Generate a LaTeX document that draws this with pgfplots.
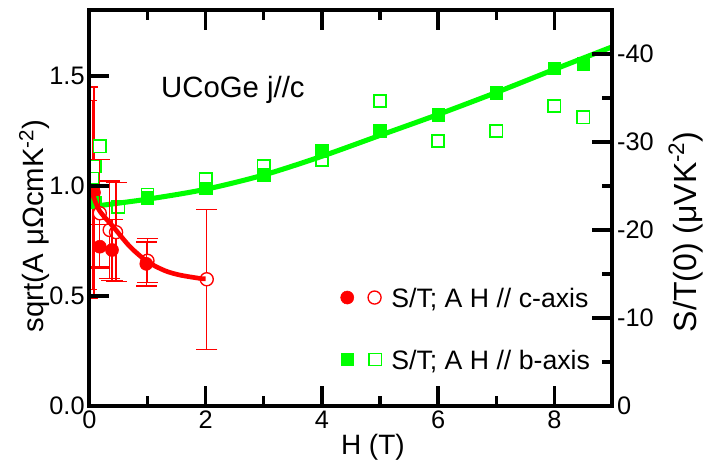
\documentclass[border=0pt]{standalone}
\usepackage{fontspec}
\setmainfont{Liberation Sans}
\usepackage{pgfplots}
\pgfplotsset{compat=1.18}
\definecolor{gr}{RGB}{0,255,0}
\definecolor{rd}{RGB}{255,0,0}

\pgfplotsset{
  frame/.style={
    scale only axis, width=392.4pt, height=297pt,
    xmin=0, xmax=9,
    axis on top, clip marker paths=true,
    axis line style={line width=3pt},
    tick align=inside,
    major tick length=15pt, minor tick length=7.5pt,
    major tick style={line width=2.5pt, black},
    minor tick style={line width=2.5pt, black},
    /pgf/number format/assume math mode=true,
    tick label style={font=\fontsize{19}{19}\selectfont},
  },
  errs/.style={error bars/.cd, y dir=both, y explicit,
    error bar style={line width=1pt, rd},
    error mark options={rotate=90, mark size=7.9pt, line width=1pt, rd}},
}

\begin{document}
\begin{tikzpicture}
\begin{axis}[frame, name=ax,
  ymin=0, ymax=1.8,
  xtick={0,2,4,6,8}, minor xtick={1,3,5,7},
  ytick={0,0.5,1.0,1.5},
  xtick pos=both, ytick pos=left,
  yticklabel style={/pgf/number format/.cd, fixed, fixed zerofill, precision=1},
  xlabel={H (T)},
  xlabel style={at={(axis description cs:0.542,-0.1237)}, anchor=base, font=\fontsize{21}{21}\selectfont},
  ylabel={sqrt(A μΩcmK\textsuperscript{-2})},
  ylabel style={at={(axis description cs:-0.0878,0.455)}, anchor=base, font=\fontsize{22}{22}\selectfont},
  legend style={draw=none, fill=none, inner sep=0pt, nodes={inner sep=0pt, text depth=0pt},
    at={(axis cs:4.32,0.538)}, anchor=north west, column sep=7.5pt, row sep=32pt,
    font=\fontsize{20}{20}\selectfont},
  legend cell align=left,
]
% c-axis points next to H=0 (caps cut short by the frame)
\addplot[forget plot, only marks, mark=*, mark size=4.9pt, rd, mark options={fill=white, line width=1pt},
  errs, /pgfplots/error bars/error mark options={rotate=90, mark size=3pt, line width=1pt, rd}]
  coordinates {(0.06,0.96) +- (0,0.43)};
\addplot[forget plot, only marks, mark=*, mark size=4.9pt, rd, mark options={fill=rd},
  errs, /pgfplots/error bars/error mark options={rotate=90, mark size=3pt, line width=1pt, rd}]
  coordinates {(0.08,0.97) +- (0,0.48)};

% b-axis, A (open squares)
\addplot[forget plot, only marks, mark=square*, mark size=4.6pt, gr, mark options={fill=white, line width=1.2pt}]
  coordinates {(0.05,1.036) (0.1,1.09) (0.18,1.18) (0.5,0.905) (1,0.96) (2,1.03) (3,1.09)
               (4,1.118) (5,1.386) (6,1.205) (7,1.25) (8,1.364) (8.5,1.312)};
% b-axis fit
\addplot[forget plot, gr, line width=3.8pt, smooth]
  coordinates {(0,0.905) (1,0.94) (2,0.985) (3,1.05) (4,1.135) (5,1.23) (6,1.325) (7,1.425) (8,1.53) (9,1.633)};
% b-axis, S/T (filled squares)
\addplot[forget plot, only marks, mark=square*, mark size=4.7pt, gr, mark options={fill=gr}]
  coordinates {(0.09,0.925) (1,0.947) (2,0.99) (3,1.05) (4,1.16) (5,1.25) (6,1.323) (7,1.424) (8,1.535) (8.5,1.555)};

% c-axis, A (open circles)
\addplot[forget plot, only marks, mark=*, mark size=4.9pt, rd, mark options={fill=white, line width=1pt}, errs]
  coordinates {(0.18,0.876) +- (0,0.245) (0.35,0.80) +- (0,0.222)
               (0.46,0.79) +- (0,0.225) (1,0.66) +- (0,0.1) (2.02,0.576) +- (0,0.318)};
% c-axis fit
\addplot[forget plot, rd, line width=3.5pt, smooth]
  coordinates {(0.04,0.975) (0.17,0.89) (0.41,0.815) (0.7,0.724) (1.0,0.656) (1.3,0.615) (1.56,0.595) (1.9,0.58) (2.0,0.578)};
% c-axis, S/T (filled circles)
\addplot[forget plot, only marks, mark=*, mark size=4.9pt, rd, mark options={fill=rd}, errs]
  coordinates {(0.18,0.724) +- (0,0.1) (0.39,0.709) +- (0,0.14) (0.98,0.646) +- (0,0.1)};

\addlegendimage{legend image code/.code={
  \draw[rd, only marks, mark=*, mark size=4.9pt, mark options={fill=rd}] plot coordinates {(0pt,0pt)};
  \draw[rd, only marks, mark=*, mark size=4.9pt, mark options={fill=white, line width=1pt}] plot coordinates {(20.5pt,0pt)};
}}
\addlegendentry{S/T; A H // c-axis}
\addlegendimage{legend image code/.code={
  \draw[gr, only marks, mark=square*, mark size=4.6pt, mark options={fill=gr}] plot coordinates {(0pt,0pt)};
  \draw[gr, only marks, mark=square*, mark size=4.6pt, mark options={fill=white, line width=1.2pt}] plot coordinates {(21pt,0pt)};
}}
\addlegendentry{S/T; A H // b-axis}

\node[anchor=base, font=\fontsize{22}{22}\selectfont] at (axis cs:2.47,1.401) {UCoGe j//c};
\end{axis}

\begin{axis}[frame,
  ymin=-45, ymax=0, y dir=reverse,
  hide x axis, axis y line*=right,
  tick align=inside,
  ytick={0,-10,-20,-30,-40}, minor ytick={-5,-15,-25,-35},
  ylabel={S/T(0) (μVK\textsuperscript{-2})},
  ylabel style={at={(axis description cs:1.16,0.44)}, anchor=base, font=\fontsize{24}{24}\selectfont},
]
\end{axis}

\pgfresetboundingbox
\path[use as bounding box] ([xshift=-67pt,yshift=-42.75pt]ax.south west) rectangle ([xshift=67.9pt,yshift=7.5pt]ax.north east);
\end{tikzpicture}
\end{document}
